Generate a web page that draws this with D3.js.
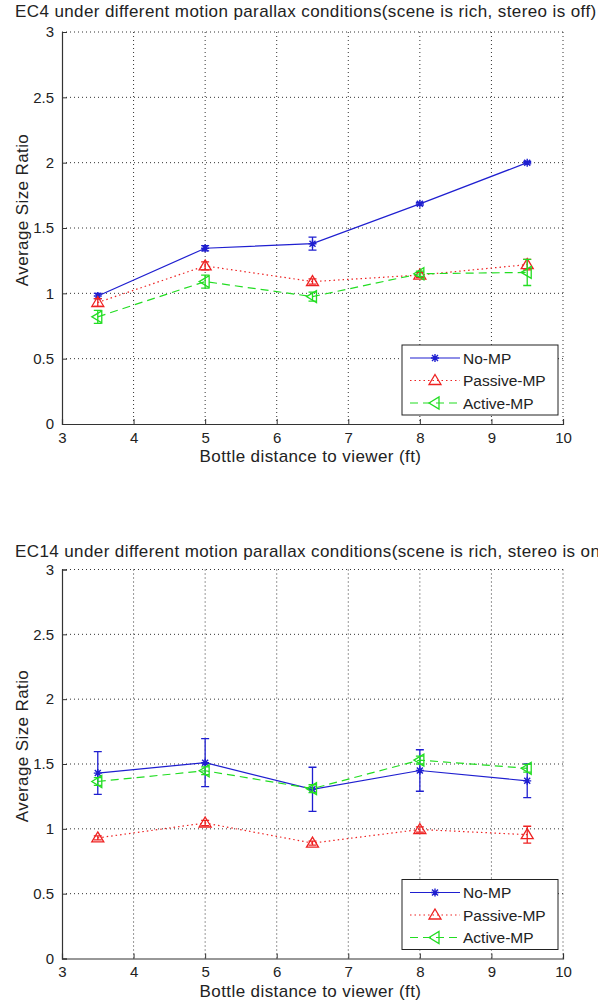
<!DOCTYPE html>
<html>
<head>
<meta charset="utf-8">
<script src="https://cdn.jsdelivr.net/npm/d3@7"></script>
<style>
  body { margin: 0; background: #fff; }
  text { font-family: "Liberation Sans", Arial, sans-serif; fill: #222; }
</style>
</head>
<body>
<div id="chart"></div>
<script>
// shared x positions and ticks
const distances = [3.5, 5, 6.5, 8, 9.5];
const xTicks = [3, 4, 5, 6, 7, 8, 9, 10];
const yTicks = [0, 0.5, 1, 1.5, 2, 2.5, 3];
const seriesNames = ["No-MP", "Passive-MP", "Active-MP"];

// EC4 (stereo off)
const ec4NoMP = [0.98, 1.345, 1.38, 1.685, 2.0];
const ec4NoMPErr = [0.02, 0.02, 0.05, 0.01, 0.01];
const ec4Passive = [0.93, 1.21, 1.09, 1.14, 1.22];
const ec4PassiveErr = [0.03, 0.03, 0.02, 0.02, 0.04];
const ec4Active = [0.82, 1.09, 0.975, 1.15, 1.16];
const ec4ActiveErr = [0.05, 0.05, 0.035, 0.02, 0.1];

// EC14 (stereo on)
const ec14NoMP = [1.43, 1.51, 1.305, 1.45, 1.37];
const ec14NoMPErr = [0.165, 0.185, 0.17, 0.16, 0.13];
const ec14Passive = [0.93, 1.045, 0.89, 0.995, 0.955];
const ec14PassiveErr = [0.015, 0.02, 0.015, 0.02, 0.065];
const ec14Active = [1.365, 1.448, 1.31, 1.53, 1.467];
const ec14ActiveErr = [0.03, 0.03, 0.03, 0.03, 0.03];

const W = 598, H = 1003;
const svg = d3.select("#chart").append("svg")
  .attr("width", W)
  .attr("height", H);

const styles = [
  { color: "#1f1fd0", dash: null, marker: "star" },
  { color: "#ee2222", dash: "1.5,3", marker: "tri" },
  { color: "#22dd22", dash: "8,5", marker: "left" }
];

function drawMarker(g, type, cx, cy, color) {
  if (type === "star") {
    const s = 4;
    g.append("path")
      .attr("d", `M${cx - s},${cy}L${cx + s},${cy}M${cx},${cy - s}L${cx},${cy + s}` +
        `M${cx - 3},${cy - 3}L${cx + 3},${cy + 3}M${cx - 3},${cy + 3}L${cx + 3},${cy - 3}`)
      .attr("stroke", color).attr("stroke-width", 1.4).attr("fill", "none");
  } else if (type === "tri") {
    g.append("path")
      .attr("d", `M${cx},${cy - 6}L${cx + 6},${cy + 4}L${cx - 6},${cy + 4}Z`)
      .attr("stroke", color).attr("stroke-width", 1.3).attr("fill", "none");
  } else {
    g.append("path")
      .attr("d", `M${cx - 6},${cy}L${cx + 4},${cy - 6}L${cx + 4},${cy + 6}Z`)
      .attr("stroke", color).attr("stroke-width", 1.3).attr("fill", "none");
  }
}

function drawPanel(top, bottom, titleY, titleText, series) {
  const left = 62, right = 563;
  const x = d3.scaleLinear().domain([3, 10]).range([left, right]);
  const y = d3.scaleLinear().domain([0, 3]).range([bottom, top]);
  const g = svg.append("g");

  // grid
  g.selectAll(".gx").data(xTicks.slice(1)).join("line")
    .attr("x1", d => x(d)).attr("x2", d => x(d))
    .attr("y1", top).attr("y2", bottom)
    .attr("stroke", "#333").attr("stroke-width", 1).attr("stroke-dasharray", "1,3");
  g.selectAll(".gy").data(yTicks.slice(1)).join("line")
    .attr("x1", left).attr("x2", right)
    .attr("y1", d => y(d)).attr("y2", d => y(d))
    .attr("stroke", "#333").attr("stroke-width", 1).attr("stroke-dasharray", "1,3");

  // axes (ticks inward)
  const xAxis = g.append("g")
    .attr("transform", `translate(0,${bottom})`)
    .call(d3.axisBottom(x).tickValues(xTicks).tickSize(-5).tickPadding(8).tickFormat(d3.format("")));
  const yAxis = g.append("g")
    .attr("transform", `translate(${left},0)`)
    .call(d3.axisLeft(y).tickValues(yTicks).tickSize(-5).tickPadding(8).tickFormat(d3.format("")));
  [xAxis, yAxis].forEach(a => {
    a.select(".domain").attr("stroke", "#333").attr("stroke-width", 1.2);
    a.selectAll(".tick line").attr("stroke", "#333");
    a.selectAll(".tick text").attr("font-size", 15)
      .attr("font-family", "Liberation Sans, Arial, sans-serif").attr("fill", "#333");
  });

  // series
  series.forEach((s, i) => {
    const st = styles[i];
    const pts = distances.map((d, j) => ({ x: d, y: s.values[j], e: s.err[j] }));
    // error bars
    pts.forEach(p => {
      const px = x(p.x);
      const y1 = y(p.y + p.e), y2 = y(p.y - p.e);
      g.append("path")
        .attr("d", `M${px},${y1}L${px},${y2}M${px - 4},${y1}L${px + 4},${y1}M${px - 4},${y2}L${px + 4},${y2}`)
        .attr("stroke", st.color).attr("stroke-width", 1.3).attr("fill", "none");
    });
    g.append("path")
      .datum(pts)
      .attr("fill", "none")
      .attr("stroke", st.color)
      .attr("stroke-width", 1.2)
      .attr("stroke-dasharray", st.dash)
      .attr("d", d3.line().x(d => x(d.x)).y(d => y(d.y)));
    pts.forEach(p => drawMarker(g, st.marker, x(p.x), y(p.y), st.color));
  });

  // title and labels
  svg.append("text")
    .attr("x", 15).attr("y", titleY)
    .attr("font-size", 17)
    .attr("letter-spacing", 0.4)
    .text(titleText);
  svg.append("text")
    .attr("x", (left + right) / 2 - 2).attr("y", bottom + 38)
    .attr("text-anchor", "middle")
    .attr("font-size", 17)
    .attr("letter-spacing", 0.4)
    .text("Bottle distance to viewer (ft)");
  svg.append("text")
    .attr("transform", `translate(28,${(top + bottom) / 2 - 18}) rotate(-90)`)
    .attr("text-anchor", "middle")
    .attr("font-size", 17)
    .attr("letter-spacing", 0.4)
    .text("Average Size Ratio");

  // legend
  const lg = svg.append("g").attr("transform", `translate(402,${bottom - 79})`);
  lg.append("rect").attr("width", 156).attr("height", 70)
    .attr("fill", "#fff").attr("stroke", "#222").attr("stroke-width", 1);
  seriesNames.forEach((name, i) => {
    const st = styles[i];
    const ly = 13 + i * 22.5;
    lg.append("line").attr("x1", 8).attr("x2", 58).attr("y1", ly).attr("y2", ly)
      .attr("stroke", st.color).attr("stroke-width", 1.2).attr("stroke-dasharray", st.dash);
    drawMarker(lg, st.marker, 33, ly, st.color);
    lg.append("text").attr("x", 61).attr("y", ly + 5.5)
      .attr("font-size", 15.5).text(name);
  });
}

drawPanel(32, 424, 17,
  "EC4 under different motion parallax conditions(scene is rich, stereo is off)",
  [
    { values: ec4NoMP, err: ec4NoMPErr },
    { values: ec4Passive, err: ec4PassiveErr },
    { values: ec4Active, err: ec4ActiveErr }
  ]);

drawPanel(569.5, 958.5, 557,
  "EC14 under different motion parallax conditions(scene is rich, stereo is on)",
  [
    { values: ec14NoMP, err: ec14NoMPErr },
    { values: ec14Passive, err: ec14PassiveErr },
    { values: ec14Active, err: ec14ActiveErr }
  ]);
</script>
</body>
</html>
